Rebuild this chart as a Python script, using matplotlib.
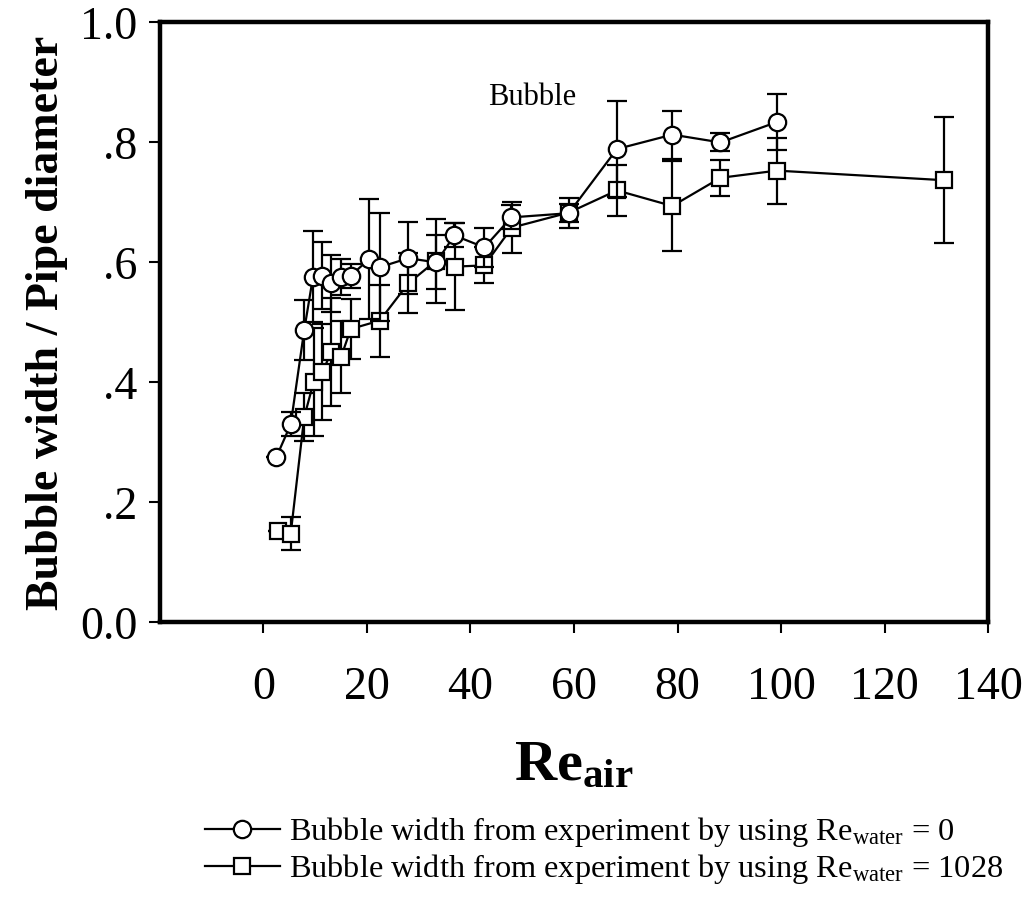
import matplotlib
matplotlib.use("Agg")
import matplotlib.pyplot as plt
from matplotlib.lines import Line2D

plt.rcParams['font.family'] = ['Liberation Serif', 'DejaVu Serif']
plt.rcParams['mathtext.fontset'] = 'custom'
plt.rcParams['mathtext.rm'] = 'Liberation Serif'
plt.rcParams['mathtext.it'] = 'Liberation Serif:italic'
plt.rcParams['mathtext.bf'] = 'Liberation Serif:bold'

# Series 1: Re_water = 0 (circles)
re_air_c = [2.5, 5.3, 7.9, 9.6, 11.4, 13.1, 15.0, 16.9, 20.5, 22.5, 28.0, 33.4,
            36.9, 42.7, 47.9, 59.0, 68.3, 79.0, 88.3, 99.2]
width_c = [0.275, 0.330, 0.487, 0.576, 0.578, 0.565, 0.576, 0.578, 0.606, 0.592,
           0.607, 0.600, 0.645, 0.625, 0.675, 0.682, 0.789, 0.813, 0.800, 0.834]
err_c = [0.0, 0.02, 0.05, 0.076, 0.056, 0.048, 0.03, 0.02, 0.10, 0.09,
         0.06, 0.045, 0.02, 0.033, 0.02, 0.015, 0.08, 0.04, 0.015, 0.046]

# Series 2: Re_water = 1028 (squares)
re_air_s = [2.8, 5.3, 7.9, 9.7, 11.4, 13.1, 15.0, 16.9, 22.5, 28.0, 33.4, 37.0,
            42.7, 48.0, 59.0, 68.3, 79.0, 88.3, 99.2, 131.5]
width_s = [0.153, 0.148, 0.342, 0.400, 0.417, 0.450, 0.442, 0.489, 0.503, 0.565,
           0.603, 0.593, 0.595, 0.658, 0.683, 0.720, 0.694, 0.741, 0.753, 0.737]
err_s = [0.0, 0.028, 0.04, 0.09, 0.08, 0.09, 0.06, 0.05, 0.06, 0.05,
         0.07, 0.073, 0.03, 0.042, 0.025, 0.042, 0.075, 0.03, 0.055, 0.105]

xticks = [0, 20, 40, 60, 80, 100, 120, 140]
yticks = [0.0, 0.2, 0.4, 0.6, 0.8, 1.0]
yticklabels = ['0.0', '.2', '.4', '.6', '.8', '1.0']

label_c = r'Bubble width from experiment by using Re$_{\mathrm{water}}$ = 0'
label_s = r'Bubble width from experiment by using Re$_{\mathrm{water}}$ = 1028'

fig = plt.figure(figsize=(10.24, 8.98), dpi=100)
ax = fig.add_axes([0.156, 0.307, 0.809, 0.668])

common = dict(color='black', lw=1.6, elinewidth=1.6, capsize=7, capthick=1.6,
              markerfacecolor='white', markeredgecolor='black', markeredgewidth=1.6)
ax.errorbar(re_air_s, width_s, yerr=err_s, fmt='-s', markersize=12, zorder=3, **common)
ax.errorbar(re_air_c, width_c, yerr=err_c, fmt='-o', markersize=12.5, zorder=4, **common)

ax.set_xlim(-20, 140)
ax.set_ylim(0, 1.0)
ax.set_xticks(xticks)
ax.set_xticklabels([str(t) for t in xticks])
ax.set_yticks(yticks)
ax.set_yticklabels(yticklabels)
for s in ax.spines.values():
    s.set_linewidth(3.2)
ax.tick_params(axis='both', direction='out', length=8, width=1.5, labelsize=33)
ax.tick_params(axis='x', pad=24)
ax.tick_params(axis='y', pad=8)

ax.set_ylabel('Bubble width / Pipe diameter', fontsize=33, fontweight='bold', labelpad=9)
ax.set_xlabel(r'$\mathbf{Re}_{\mathbf{air}}$', fontsize=42, labelpad=22)

ax.text(0.45, 0.875, 'Bubble', transform=ax.transAxes, fontsize=22, ha='center', va='center')

h_c = Line2D([], [], color='black', lw=1.6, marker='o', markersize=12.5,
             markerfacecolor='white', markeredgewidth=1.6)
h_s = Line2D([], [], color='black', lw=1.6, marker='s', markersize=12,
             markerfacecolor='white', markeredgewidth=1.6)
fig.legend([h_c, h_s], [label_c, label_s], loc='upper left',
           bbox_to_anchor=(0.172, 0.125), frameon=False, fontsize=23.3,
           handlelength=2.3, handletextpad=0.3, labelspacing=0.1)

fig.savefig('out.png', dpi=100)
